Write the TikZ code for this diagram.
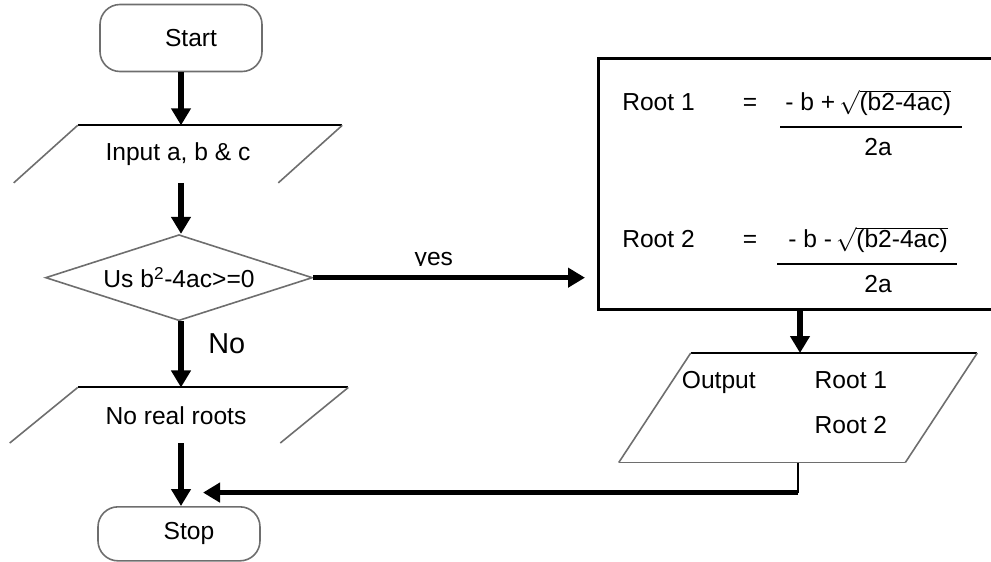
\documentclass[tikz,border=0pt]{standalone}
\usepackage{fontspec}
\setmainfont{Liberation Sans}
\usepackage{tikz}
\usetikzlibrary{positioning,arrows.meta,calc,shapes.geometric}
\definecolor{ink}{HTML}{000000}
\definecolor{edgegray}{HTML}{6E6E6E}
\tikzset{
  >={Triangle[length=4.25mm,width=4.75mm]},
  every node/.style={font=\fontsize{17.5}{21}\selectfont, text=ink},
  termbox/.style={draw=edgegray, line width=0.4mm, rounded corners=5mm, minimum width=40.5mm, minimum height=16.75mm},
  iobox/.style={inner sep=0pt},
  iotop/.style={draw=ink, line width=0.5mm},
  ioside/.style={draw=edgegray, line width=0.4mm},
  decbox/.style={diamond, draw=edgegray, line width=0.4mm, shape aspect=3.1, minimum width=66.75mm, minimum height=21.5mm, inner sep=0pt},
  resbox/.style={draw=ink, line width=0.75mm, minimum width=100.75mm, minimum height=62.75mm},
  flow/.style={->, line width=1.4mm, draw=ink},
  txt/.style={inner sep=0pt},
  bar/.style={line width=0.5mm, draw=ink},
}
\begin{document}
\begin{tikzpicture}
  \useasboundingbox (0,0) rectangle (247.75mm,-140.25mm);
  % left column
  \node[termbox] (start) at (45.25mm,-9.5mm) {\hspace*{5mm}Start};
  \node[iobox, minimum width=50mm, minimum height=14.25mm, below=13.25mm of start, xshift=-0.75mm] (inp) {Input a, b \&\ c};
  \node[decbox, below=12.75mm of inp, xshift=0.25mm] (cond) {Us b\textsuperscript{2}-4ac>=0};
  \node[iobox, minimum width=50.5mm, minimum height=13.75mm, below=16.5mm of cond] (nr) {\hspace*{-1.5mm}No real roots};
  \node[termbox, minimum height=13.5mm, below=15.75mm of nr] (stop) {\hspace*{5mm}Stop};
  \node[txt, anchor=west, font=\fontsize{20.5}{24}\selectfont] (no) at ($(cond.south)+(7.25mm,-5.5mm)$) {No};

  % right column
  \node[resbox, anchor=north west] (res) at (149.25mm,-14.25mm) {};
  \node[txt, anchor=base west] (r1) at ($(res.north west)+(6.25mm,-13.25mm)$) {Root 1};
  \node[txt, anchor=base] (eq1) at ($(res.north west)+(38.25mm,-13.25mm)$) {=};
  \node[txt, anchor=base west] (n1) at ($(res.north west)+(47mm,-13.25mm)$) {- b +\(\,\sqrt{\mbox{(b2-4ac)}}\)};
  \node[txt, anchor=base] (d1) at ($(n1.base west)+(23.25mm,-11.25mm)$) {2a};
  \draw[bar] ($(n1.base west)+(-1.25mm,-4.25mm)$) -- ($(n1.base west)+(44.25mm,-4.25mm)$);
  \node[txt, anchor=base west] (r2) at ($(res.north west)+(6.25mm,-47.5mm)$) {Root 2};
  \node[txt, anchor=base] (eq2) at ($(res.north west)+(38.25mm,-47.5mm)$) {=};
  \node[txt, anchor=base west] (n2) at ($(res.north west)+(47.75mm,-47.5mm)$) {- b -\(\,\sqrt{\mbox{(b2-4ac)}}\)};
  \node[txt, anchor=base] (d2) at ($(n2.base west)+(22.5mm,-11.25mm)$) {2a};
  \draw[bar] ($(n2.base west)+(-2.75mm,-4.25mm)$) -- ($(n2.base west)+(42.25mm,-4.25mm)$);

  \node[iobox, minimum width=53.5mm, minimum height=27.25mm, below=10.5mm of res, xshift=-0.5mm] (out) {};
  \node[txt, anchor=base west] (olab) at ($(out.center)+(-29.1mm,4.75mm)$) {Output};
  \node[txt, anchor=base west] (o1) at ($(out.center)+(4.1mm,4.75mm)$) {Root 1};
  \node[txt, anchor=base west] (o2) at ($(out.center)+(4.1mm,-6.4mm)$) {Root 2};

  % slanted in/out boxes
  \foreach \n/\l in {inp/16mm, nr/17mm, out/18mm}{
    \draw[iotop] (\n.north west) -- ($(\n.north east)+(\l,0)$);
    \draw[ioside] (\n.north west) -- ($(\n.south west)+(-\l,0)$);
    \draw[ioside] ($(\n.north east)+(\l,0)$) -- (\n.south east);
  }
  \draw[ioside] ($(out.south west)+(-18mm,0)$) -- (out.south east);

  % connectors
  \draw[flow] (start) -- (start |- inp.north);
  \draw[flow] (start |- inp.south) -- (start |- cond.north);
  \draw[flow] (start |- cond.south) -- (start |- nr.north);
  \draw[flow] (start |- nr.south) -- (start |- stop.north);
  \draw[flow, shorten >=3mm] (cond.east) -- (cond.east -| res.west) coordinate[pos=.425] (ym);
  \begin{scope}
    \clip ($(ym)+(-15mm,3mm)$) rectangle ($(ym)+(15mm,12mm)$);
    \node[txt, anchor=base] (yes) at ($(ym)+(0,3mm)$) {yes};
  \end{scope}
  \draw[flow] (res.south) -- (res.south |- out.north);
  \coordinate (ret) at ($(out.south)+(0,-7.5mm)$);
  \draw[line width=0.5mm] (out.south) -- (ret);
  \draw[flow, shorten >=6mm] (ret) -- (ret -| stop.north);
\end{tikzpicture}
\end{document}
